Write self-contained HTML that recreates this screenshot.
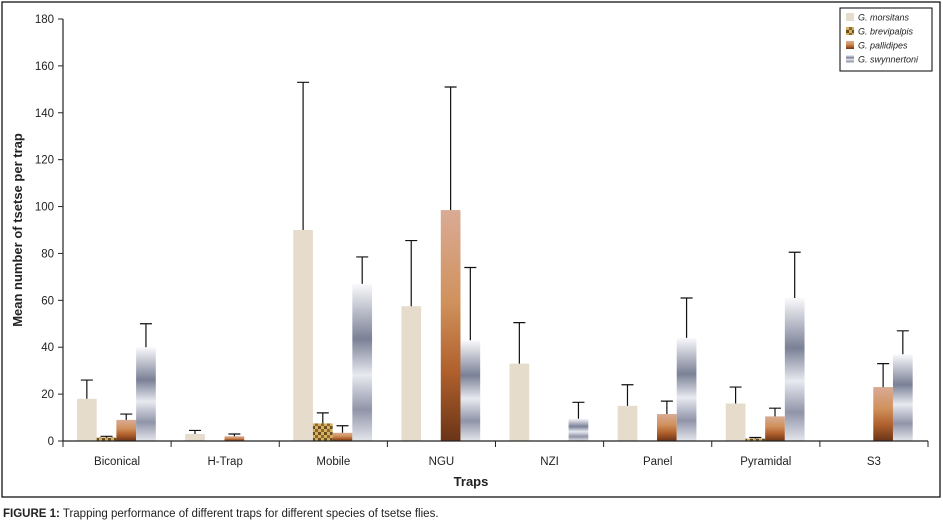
<!DOCTYPE html>
<html><head><meta charset="utf-8"><style>
body{margin:0;background:#fff;width:943px;height:521px;overflow:hidden;font-family:"Liberation Sans",sans-serif}
</style></head><body>
<svg width="943" height="521" xmlns="http://www.w3.org/2000/svg">
<defs>
<linearGradient id="gPal" x1="0" y1="0" x2="0" y2="1"><stop offset="0" stop-color="#d9ab95"/><stop offset="0.4" stop-color="#d0915c"/><stop offset="0.7" stop-color="#b0602c"/><stop offset="1" stop-color="#6a3418"/></linearGradient>
<linearGradient id="gSwy" x1="0" y1="0" x2="0" y2="1"><stop offset="0" stop-color="#fafafc"/><stop offset="0.35" stop-color="#7a8096"/><stop offset="0.58" stop-color="#e8eaf0"/><stop offset="0.8" stop-color="#9094a8"/><stop offset="1" stop-color="#e4e6ec"/></linearGradient>
<pattern id="pBrev" width="6" height="6" patternUnits="userSpaceOnUse"><rect width="6" height="6" fill="#d8b060"/><rect width="3" height="3" fill="#6a5020"/><rect x="3" y="3" width="3" height="3" fill="#8a6a30"/></pattern>
</defs>
<rect x="2" y="2" width="938" height="495" fill="none" stroke="#000" stroke-width="1.2"/>
<g id="plot"></g>
<text x="471" y="486" font-size="13" font-weight="bold" text-anchor="middle" fill="#222">Traps</text>
<text transform="translate(22,230) rotate(-90)" font-size="13" font-weight="bold" text-anchor="middle" fill="#222">Mean number of tsetse per trap</text>
<g>
<rect x="840" y="8" width="92" height="63" fill="#fff" stroke="#000" stroke-width="1"/>
<rect x="846" y="13" width="8" height="8" fill="#e6dccb"/>
<text x="858" y="20.5" font-size="9" font-style="italic" fill="#222">G. morsitans</text>
<rect x="846" y="27" width="8" height="8" fill="url(#pBrev)"/>
<text x="858" y="34.5" font-size="9" font-style="italic" fill="#222">G. brevipalpis</text>
<rect x="846" y="41" width="8" height="8" fill="url(#gPal)"/>
<text x="858" y="48.5" font-size="9" font-style="italic" fill="#222">G. pallidipes</text>
<rect x="846" y="55" width="8" height="8" fill="url(#gSwy)"/>
<text x="858" y="62.5" font-size="9" font-style="italic" fill="#222">G. swynnertoni</text>
</g>
<text x="3" y="517" font-size="11.5" fill="#222"><tspan font-weight="bold">FIGURE 1:</tspan> Trapping performance of different traps for different species of tsetse flies.</text>
</svg>
<script>
const categories=["Biconical","H-Trap","Mobile","NGU","NZI","Panel","Pyramidal","S3"];
const morsitans=[18,3,90,57.5,33,15,16,0];
const morsitansErr=[26,4.5,153,85.5,50.5,24,23,0];
const brevipalpis=[1.5,0,7.5,0,0,0,1,0];
const brevipalpisErr=[2,0,12,0,0,0,1.5,0];
const pallidipes=[9,2,3.5,98.5,0,11.5,10.5,23];
const pallidipesErr=[11.5,3,6.5,151,0,17,14,33];
const swynnertoni=[40,0,67,43,9.5,44,61,37];
const swynnertoniErr=[50,0,78.5,74,16.5,61,80.5,47];
const yTicks=[0,20,40,60,80,100,120,140,160,180];
const NS="http://www.w3.org/2000/svg";
const X0=63,X1=928,Y0=441,Y1=19,YMAX=180;
const bw=(X1-X0)/categories.length;
const y=v=>Y0-(v/YMAX)*(Y0-Y1);
const g=document.getElementById('plot');
function mk(t,a){const e=document.createElementNS(NS,t);for(const k in a)e.setAttribute(k,a[k]);g.appendChild(e);return e;}
const series=[[morsitans,morsitansErr,"#e6dccb","morsitans"],[brevipalpis,brevipalpisErr,"url(#pBrev)","brevipalpis"],[pallidipes,pallidipesErr,"url(#gPal)","pallidipes"],[swynnertoni,swynnertoniErr,"url(#gSwy)","swynnertoni"]];
const barW=19.7;
categories.forEach((c,i)=>{
  series.forEach((s,j)=>{
    const v=s[0][i],e=s[1][i];
    const x=X0+i*bw+14+j*barW;
    if(v>0){
      const r=mk('rect',{x:x,y:y(v),width:barW,height:Y0-y(v),fill:s[2]});
      
      
    }
    if(e>v){
      const cx=x+barW/2;
      const l=mk('path',{d:`M${cx},${y(v)}V${y(e)}M${cx-6},${y(e)}H${cx+6}`,stroke:'#111','stroke-width':1.2,fill:'none'});
      
      
    }
  });
  const t=mk('text',{x:X0+i*bw+bw/2,y:465,'font-size':11.5,'text-anchor':'middle',fill:'#222'});
  t.textContent=c;
  
  
});
for(let i=0;i<=categories.length;i++){const x=X0+i*bw;const tk=mk('line',{x1:x,x2:x,y1:Y0,y2:Y0+6,stroke:'#222'});}
yTicks.forEach(v=>{
  const tk=mk('line',{x1:X0-5,x2:X0,y1:y(v),y2:y(v),stroke:'#222'});
  
  
  const t=mk('text',{x:X0-9,y:y(v)+4,'font-size':11.5,'text-anchor':'end',fill:'#222'});
  t.textContent=v;
  
  
});
const ax=mk('path',{d:`M${X0},${Y1}V${Y0}H${X1}`,stroke:'#222',fill:'none','stroke-width':1.2});


</script>
</body></html>
